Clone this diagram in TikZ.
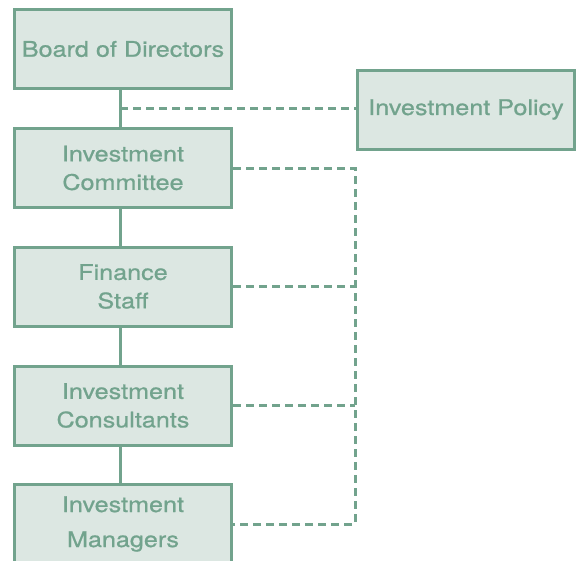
\documentclass[tikz,border=0pt]{standalone}
\usepackage{fontspec}
\setmainfont[FakeStretch=1.17,FakeBold=0.8]{TeX Gyre Heros}
\definecolor{boxgreen}{HTML}{72A38D}
\definecolor{boxfill}{HTML}{DCE7E2}
\begin{document}
\begin{tikzpicture}[x=1pt,y=-1pt,
	unit/.style={draw=boxgreen,fill=boxfill,line width=3pt,text=boxgreen,minimum width=217pt,minimum height=79pt,inner sep=0pt,align=center,font=\fontsize{21.5}{28.5}\selectfont},
	link/.style={draw=boxgreen,line width=3pt},
	dotlink/.style={draw=boxgreen,line width=3pt,dash pattern=on 8pt off 5pt}]
	\useasboundingbox (0,0) rectangle (576,560);
	\clip (0,0) rectangle (576,560);
	\node[unit] at (123,49) (board) {Board of Directors};
	\node[unit] at (123,168) (committee) {Investment\\Committee};
	\node[unit] at (123,286.5) (finance) {Finance\\Staff};
	\node[unit] at (123,405.5) (consultants) {Investment\\Consultants};
	\node[unit,font=\fontsize{21.5}{35}\selectfont] at (123,524) (managers) {Investment\\Managers};
	\node[unit] at (466,109.5) (policy) {Investment Policy};
	\coordinate (tap) at (120,108);
	\coordinate (rail) at (355,0);
	\draw[link] ([xshift=-3pt]board.south) to ([xshift=-3pt]committee.north);
	\draw[link] ([xshift=-3pt]committee.south) to ([xshift=-3pt]finance.north);
	\draw[link] ([xshift=-3pt]finance.south) to ([xshift=-3pt]consultants.north);
	\draw[link] ([xshift=-3pt]consultants.south) to ([xshift=-3pt]managers.north);
	\draw[dotlink] (tap) to (tap -| policy.west);
	\draw[dotlink] (committee.east) -- (committee.east -| rail) -- (managers.east -| rail) -- (managers.east);
	\draw[dotlink] (finance.east) to (finance.east -| rail);
	\draw[dotlink] (consultants.east) to (consultants.east -| rail);
\end{tikzpicture}
\end{document}
